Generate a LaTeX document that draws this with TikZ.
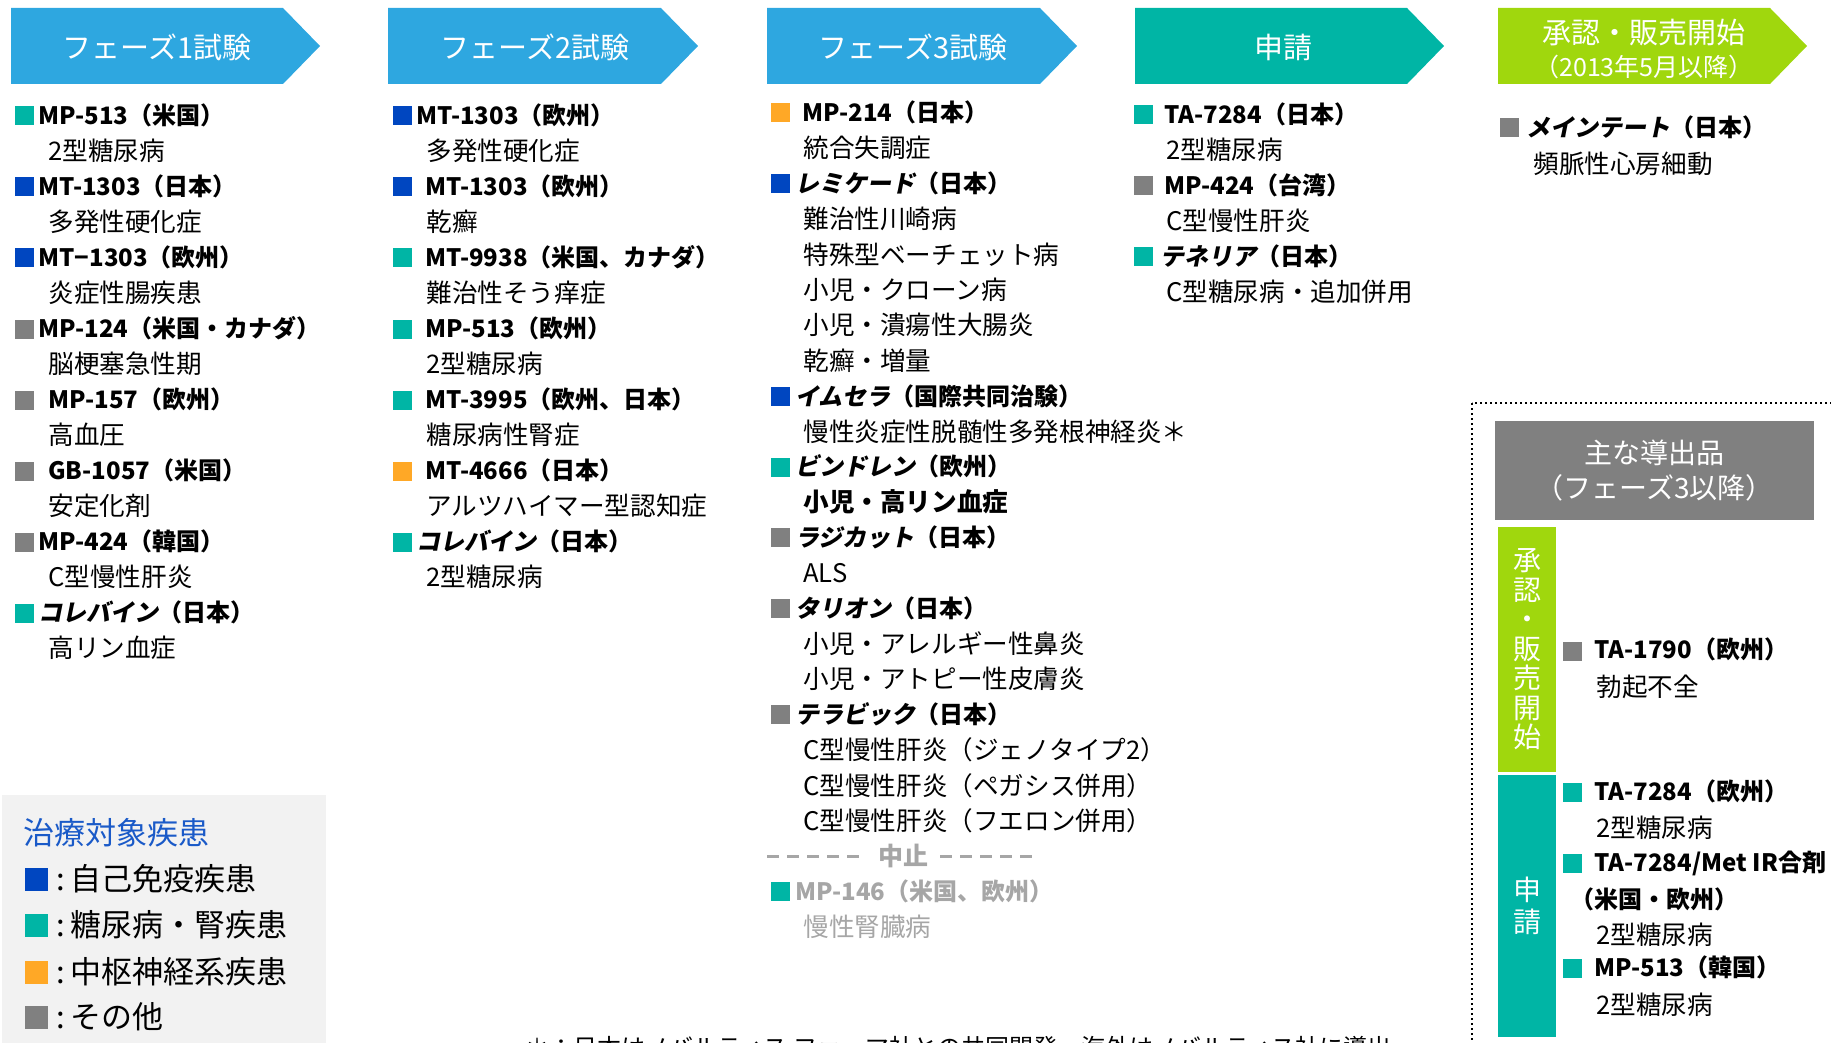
\documentclass[tikz,border=0pt]{standalone}
\usepackage{fontspec}
\setmainfont{Noto Sans CJK JP}
\newfontfamily\jpslant{Noto Sans CJK JP}[FakeSlant=0.2]

\definecolor{phasecol}{HTML}{2EA7E0}
\definecolor{tealcol}{HTML}{00B5A5}
\definecolor{apprcol}{HTML}{A0D70D}
\definecolor{autocol}{HTML}{0046C0}
\definecolor{cnscol}{HTML}{FFA826}
\definecolor{othercol}{HTML}{808080}
\definecolor{legendbg}{HTML}{F2F2F2}
\definecolor{legtitle}{HTML}{1A5AC8}
\definecolor{stopcol}{HTML}{A6A6A6}

\tikzset{
  sqbox/.style={anchor=west, minimum size=9.5pt, inner sep=0pt},
  prod/.style={anchor=west, inner sep=0pt, text height=10.4pt, text depth=1.6pt,
    font=\fontsize{12}{12}\selectfont\bfseries},
  ind/.style={anchor=west, inner sep=0pt, text height=11.1pt, text depth=1.7pt,
    font=\fontsize{12.8}{12.8}\selectfont},
  hdr/.style={text=white, inner sep=0pt, font=\fontsize{14.5}{14.5}\selectfont},
  legtext/.style={anchor=west, inner sep=0pt, font=\fontsize{15.5}{15.5}\selectfont},
  dotbox/.style={line width=1.2pt, dash pattern=on 1.2pt off 1.3pt},
}

\begin{document}
\begin{tikzpicture}[x=0.5pt, y=-0.5pt]

\useasboundingbox (0,0) rectangle (1831,1043);
\clip (0,0) rectangle (1831,1043);

% frecce delle fasi
\fill[phasecol] (11,8) -- (283,8) -- (320,46) -- (283,84) -- (11,84) -- cycle;
\fill[phasecol] (388,8) -- (661,8) -- (698,46) -- (661,84) -- (388,84) -- cycle;
\fill[phasecol] (767,8) -- (1040,8) -- (1077,46) -- (1040,84) -- (767,84) -- cycle;
\fill[tealcol] (1135,8) -- (1407,8) -- (1444,46) -- (1407,84) -- (1135,84) -- cycle;
\fill[apprcol] (1498,8) -- (1770,8) -- (1807,46) -- (1770,84) -- (1498,84) -- cycle;
\node[hdr] (h1) at (157,47) {フェーズ1試験};
\node[hdr] (h2) at (535,47) {フェーズ2試験};
\node[hdr] (h3) at (913,47) {フェーズ3試験};
\node[hdr] (h4) at (1283,47) {申請};
\node[hdr] (h5) at (1644,33) {承認・販売開始};
\node[hdr, font=\fontsize{12.5}{12.5}\selectfont] (h5b) at (1644,67) {（2013年5月以降）};

% fase 1
\node[sqbox, fill=tealcol] (q1a) at (15,116) {};
\node[prod] (p1a) at (38,116) {MP-513（米国）};
\node[ind] (d1a) at (48,151.5) {2型糖尿病};
\node[sqbox, fill=autocol] (q1b) at (15,187) {};
\node[prod] (p1b) at (38,187) {MT-1303（日本）};
\node[ind] (d1b) at (48,222.5) {多発性硬化症};
\node[sqbox, fill=autocol] (q1c) at (15,258) {};
\node[prod] (p1c) at (38,258) {MT−1303（欧州）};
\node[ind] (d1c) at (48,293.5) {炎症性腸疾患};
\node[sqbox, fill=othercol] (q1d) at (15,329) {};
\node[prod] (p1d) at (38,329) {MP-124（米国・カナダ）};
\node[ind] (d1d) at (48,364.5) {脳梗塞急性期};
\node[sqbox, fill=othercol] (q1e) at (15,400) {};
\node[prod] (p1e) at (48,400) {MP-157（欧州）};
\node[ind] (d1e) at (48,435.5) {高血圧};
\node[sqbox, fill=othercol] (q1f) at (15,471) {};
\node[prod] (p1f) at (48,471) {GB-1057（米国）};
\node[ind] (d1f) at (48,506.5) {安定化剤};
\node[sqbox, fill=othercol] (q1g) at (15,542) {};
\node[prod] (p1g) at (38,542) {MP-424（韓国）};
\node[ind] (d1g) at (48,577.5) {C型慢性肝炎};
\node[sqbox, fill=tealcol] (q1h) at (15,613) {};
\node[prod] (p1h) at (38,613) {{\jpslant コレバイン}（日本）};
\node[ind] (d1h) at (48,648.5) {高リン血症};

% fase 2
\node[sqbox, fill=autocol] (q2a) at (393,116) {};
\node[prod] (p2a) at (416,116) {MT-1303（欧州）};
\node[ind] (d2a) at (426,151.5) {多発性硬化症};
\node[sqbox, fill=autocol] (q2b) at (393,187) {};
\node[prod] (p2b) at (425,187) {MT-1303（欧州）};
\node[ind] (d2b) at (426,222.5) {乾癬};
\node[sqbox, fill=tealcol] (q2c) at (393,258) {};
\node[prod] (p2c) at (425,258) {MT-9938（米国、カナダ）};
\node[ind] (d2c) at (426,293.5) {難治性そう痒症};
\node[sqbox, fill=tealcol] (q2d) at (393,329) {};
\node[prod] (p2d) at (425,329) {MP-513（欧州）};
\node[ind] (d2d) at (426,364.5) {2型糖尿病};
\node[sqbox, fill=tealcol] (q2e) at (393,400) {};
\node[prod] (p2e) at (425,400) {MT-3995（欧州、日本）};
\node[ind] (d2e) at (426,435.5) {糖尿病性腎症};
\node[sqbox, fill=cnscol] (q2f) at (393,471) {};
\node[prod] (p2f) at (425,471) {MT-4666（日本）};
\node[ind] (d2f) at (426,506.5) {アルツハイマー型認知症};
\node[sqbox, fill=tealcol] (q2g) at (393,542) {};
\node[prod] (p2g) at (416,542) {{\jpslant コレバイン}（日本）};
\node[ind] (d2g) at (426,577.5) {2型糖尿病};

% fase 3
\node[sqbox, fill=cnscol] (q3a) at (771,113) {};
\node[prod] (p3a) at (802,113) {MP-214（日本）};
\node[ind] (d3a) at (803,148.4) {統合失調症};
\node[sqbox, fill=autocol] (q3b) at (771,183.8) {};
\node[prod] (p3b) at (795,183.8) {{\jpslant レミケード}（日本）};
\node[ind] (d3b) at (803,219.2) {難治性川崎病};
\node[ind] (d3c) at (803,254.6) {特殊型ベーチェット病};
\node[ind] (d3d) at (803,290) {小児・クローン病};
\node[ind] (d3e) at (803,325.4) {小児・潰瘍性大腸炎};
\node[ind] (d3f) at (803,360.8) {乾癬・増量};
\node[sqbox, fill=autocol] (q3c) at (771,396.2) {};
\node[prod] (p3c) at (795,396.2) {{\jpslant イムセラ}（国際共同治験）};
\node[ind] (d3g) at (803,431.6) {慢性炎症性脱髄性多発根神経炎＊};
\node[sqbox, fill=tealcol] (q3d) at (771,467) {};
\node[prod] (p3d) at (795,467) {{\jpslant ビンドレン}（欧州）};
\node[ind, font=\fontsize{12.8}{12.8}\selectfont\bfseries] (d3h) at (803,502.4) {小児・高リン血症};
\node[sqbox, fill=othercol] (q3e) at (771,537.8) {};
\node[prod] (p3e) at (795,537.8) {{\jpslant ラジカット}（日本）};
\node[ind] (d3i) at (803,573.2) {ALS};
\node[sqbox, fill=othercol] (q3f) at (771,608.6) {};
\node[prod] (p3f) at (795,608.6) {{\jpslant タリオン}（日本）};
\node[ind] (d3j) at (803,644) {小児・アレルギー性鼻炎};
\node[ind] (d3k) at (803,679.4) {小児・アトピー性皮膚炎};
\node[sqbox, fill=othercol] (q3g) at (771,714.8) {};
\node[prod] (p3g) at (795,714.8) {{\jpslant テラビック}（日本）};
\node[ind] (d3l) at (803,750.2) {C型慢性肝炎（ジェノタイプ2）};
\node[ind] (d3m) at (803,785.6) {C型慢性肝炎（ペガシス併用）};
\node[ind] (d3n) at (803,821) {C型慢性肝炎（フエロン併用）};

% interrotti
\node[text=stopcol, inner xsep=6pt, inner ysep=0pt, font=\fontsize{12.5}{12.5}\selectfont\bfseries] (stop) at (903,856.4) {中止};
\coordinate (s0) at (767,856.4);
\coordinate (s1) at (1037,856.4);
\draw[stopcol, line width=1.3pt, dash pattern=on 6pt off 4pt] (s0) -- (stop.west);
\draw[stopcol, line width=1.3pt, dash pattern=on 6pt off 4pt] (stop.east) -- (s1);
\node[sqbox, fill=tealcol] (q3h) at (771,891.8) {};
\node[prod, text=stopcol] (p3h) at (795,891.8) {MP-146（米国、欧州）};
\node[ind, text=stopcol] (d3o) at (803,927.2) {慢性腎臓病};

%申請
\node[sqbox, fill=tealcol] (q4a) at (1134,115) {};
\node[prod] (p4a) at (1164,115) {TA-7284（日本）};
\node[ind] (d4a) at (1166,150.5) {2型糖尿病};
\node[sqbox, fill=othercol] (q4b) at (1134,186) {};
\node[prod] (p4b) at (1164,186) {MP-424（台湾）};
\node[ind] (d4b) at (1166,221.5) {C型慢性肝炎};
\node[sqbox, fill=tealcol] (q4c) at (1134,257) {};
\node[prod] (p4c) at (1160,257) {{\jpslant テネリア}（日本）};
\node[ind] (d4c) at (1166,292.5) {C型糖尿病・追加併用};

% approvazione
\node[sqbox, fill=othercol] (q5a) at (1500,128) {};
\node[prod] (p5a) at (1526,128) {{\jpslant メインテート}（日本）};
\node[ind] (d5a) at (1533,164) {頻脈性心房細動};

% prodotti concessi in licenza
\draw[dotbox] (1472,403) rectangle (1850,1060);
\node[fill=othercol, text=white, minimum width=159.5pt, minimum height=49.5pt, align=center,
  font=\fontsize{14}{17.5}\selectfont] (lic) at (1654.5,470.5) {主な導出品\\（フェーズ3以降）};
\node[fill=apprcol, text=white, minimum width=29pt, minimum height=122.5pt, inner sep=0pt, align=center,
  font=\fontsize{14}{14.75}\selectfont] (appr) at (1527,649.5) {承\\認\\・\\販\\売\\開\\始};
\node[fill=tealcol, text=white, minimum width=29pt, minimum height=131pt, inner sep=0pt, align=center,
  font=\fontsize{14}{16}\selectfont] (fil) at (1527,906) {申\\請};
\node[sqbox, fill=othercol] (q6a) at (1563,651) {};
\node[prod] (p6a) at (1594,650) {TA-1790（欧州）};
\node[ind] (d6a) at (1596,687) {勃起不全};
\node[sqbox, fill=tealcol] (q6b) at (1563,792) {};
\node[prod] (p6b) at (1594,792) {TA-7284（欧州）};
\node[ind] (d6b) at (1596,828) {2型糖尿病};
\node[sqbox, fill=tealcol] (q6c) at (1563,863) {};
\node[prod] (p6c) at (1594,863) {TA-7284/Met IR合剤};
\node[prod] (p6d) at (1570,900) {（米国・欧州）};
\node[ind] (d6c) at (1596,935) {2型糖尿病};
\node[sqbox, fill=tealcol] (q6d) at (1563,968) {};
\node[prod] (p6e) at (1594,968) {MP-513（韓国）};
\node[ind] (d6d) at (1596,1005) {2型糖尿病};

% legenda
\fill[legendbg] (2,795) rectangle (326,1050);
\node[legtext, text=legtitle] (lt) at (23,833) {治療対象疾患};
\node[sqbox, minimum size=11.5pt, fill=autocol] (l1) at (25,879) {};
\node[legtext] (t1) at (56,879) {:\hspace{2.5pt}自己免疫疾患};
\node[sqbox, minimum size=11.5pt, fill=tealcol] (l2) at (25,925) {};
\node[legtext] (t2) at (56,925) {:\hspace{2.5pt}糖尿病・腎疾患};
\node[sqbox, minimum size=11.5pt, fill=cnscol] (l3) at (25,972) {};
\node[legtext] (t3) at (56,972) {:\hspace{2.5pt}中枢神経系疾患};
\node[sqbox, minimum size=11.5pt, fill=othercol] (l4) at (25,1017) {};
\node[legtext] (t4) at (56,1017) {:\hspace{2.5pt}その他};

% nota
\node[anchor=west, inner sep=0pt, font=\fontsize{12}{12}\selectfont] (nota) at (525,1047)
  {＊：日本はノバルティス ファーマ社との共同開発、海外はノバルティス社に導出};

\end{tikzpicture}
\end{document}
